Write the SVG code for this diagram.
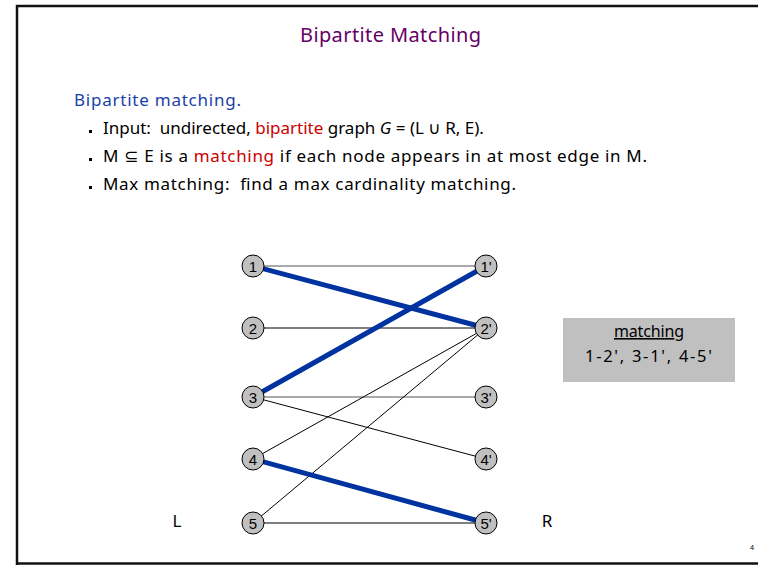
<svg xmlns="http://www.w3.org/2000/svg" width="758" height="565" viewBox="0 0 758 565">
<style>
  .txt{font-family:"Noto Sans","DejaVu Sans",sans-serif;fill:#000}
  .node circle{fill:#c0c0c0;stroke:#000;stroke-width:1}
  .node text{font-family:"Liberation Sans",Arial,sans-serif;font-size:15px;text-anchor:middle;fill:#000}
  .thin{stroke:#000;stroke-width:1;fill:none}
  .gray{stroke:#555}
  .thick{stroke:#0033a0;stroke-width:5;fill:none;stroke-linecap:butt}
  .red{fill:#cc0000}
</style>
<rect x="0" y="0" width="758" height="565" fill="#fff"/>
<path d="M17,565 V6 H758" fill="none" stroke="#111" stroke-width="2.5"/>
<path d="M17,563.5 H758" fill="none" stroke="#111" stroke-width="2.5"/>
<text class="txt" x="300" y="42" font-size="20" textLength="181" style="fill:#660066">Bipartite Matching</text>
<text class="txt" x="74" y="106" font-size="17" textLength="167" style="fill:#1a3fa8">Bipartite matching.</text>
<g fill="#000">
  <rect x="89" y="130" width="3" height="3"/>
  <rect x="89" y="158" width="3" height="3"/>
  <rect x="89" y="186" width="3" height="3"/>
</g>
<text class="txt" x="103" y="134" font-size="17" xml:space="preserve">Input:  undirected, <tspan class="red">bipartite</tspan> graph <tspan font-style="italic">G</tspan> = (L ∪ R, E).</text>
<text class="txt" x="103" y="162" font-size="17" textLength="544">M ⊆ E is a <tspan class="red">matching</tspan> if each node appears in at most edge in M.</text>
<text class="txt" x="103" y="190" font-size="17" xml:space="preserve" textLength="413">Max matching:  find a max cardinality matching.</text>
<g id="connectors">
  <line class="thin gray" x1="253" y1="266" x2="486" y2="266"/>
  <line class="thin" x1="253" y1="328" x2="486" y2="328"/>
  <line class="thin gray" x1="253" y1="397" x2="486" y2="397"/>
  <line class="thin" x1="253" y1="397" x2="486" y2="459"/>
  <line class="thin" x1="253" y1="459" x2="486" y2="328"/>
  <line class="thin" x1="253" y1="523" x2="486" y2="328"/>
  <line class="thin" x1="253" y1="523" x2="486" y2="523"/>
  <line class="thick" x1="253" y1="266" x2="486" y2="328"/>
  <line class="thick" x1="253" y1="397" x2="486" y2="266"/>
  <line class="thick" x1="253" y1="459" x2="486" y2="523"/>
</g>
<g id="n1" class="node"><circle cx="253" cy="266" r="11"/><text x="253" y="271.5">1</text></g>
<g id="n2" class="node"><circle cx="253" cy="328" r="11"/><text x="253" y="333.5">2</text></g>
<g id="n3" class="node"><circle cx="253" cy="397" r="11"/><text x="253" y="402.5">3</text></g>
<g id="n4" class="node"><circle cx="253" cy="459" r="11"/><text x="253" y="464.5">4</text></g>
<g id="n5" class="node"><circle cx="253" cy="523" r="11"/><text x="253" y="528.5">5</text></g>
<g id="n1p" class="node"><circle cx="486" cy="266" r="11"/><text x="486" y="271.5">1'</text></g>
<g id="n2p" class="node"><circle cx="486" cy="328" r="11"/><text x="486" y="333.5">2'</text></g>
<g id="n3p" class="node"><circle cx="486" cy="397" r="11"/><text x="486" y="402.5">3'</text></g>
<g id="n4p" class="node"><circle cx="486" cy="459" r="11"/><text x="486" y="464.5">4'</text></g>
<g id="n5p" class="node"><circle cx="486" cy="523" r="11"/><text x="486" y="528.5">5'</text></g>
<text class="txt" x="177" y="527" font-size="17" text-anchor="middle">L</text>
<text class="txt" x="547" y="527" font-size="17" text-anchor="middle">R</text>
<g id="matchbox">
  <rect x="563" y="318" width="172" height="64" fill="#c0c0c0"/>
  <text class="txt" x="614" y="337" font-size="16" textLength="70" text-decoration="underline">matching</text>
  <text class="txt" x="585" y="362" font-size="16.5" textLength="127">1-2', 3-1', 4-5'</text>
</g>
<text class="txt" x="752" y="550" font-size="7" text-anchor="middle">4</text>
</svg>
